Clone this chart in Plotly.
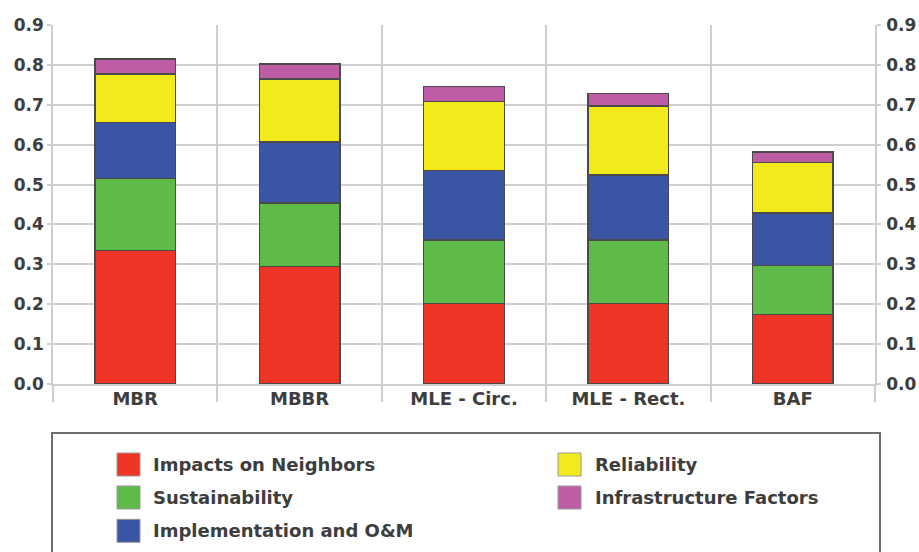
import plotly.graph_objects as go

# Treatment alternatives and weighted criterion scores (stacked)
categories = ["MBR", "MBBR", "MLE - Circ.", "MLE - Rect.", "BAF"]

impacts_on_neighbors = [0.335, 0.294, 0.201, 0.202, 0.175]
sustainability = [0.180, 0.160, 0.160, 0.159, 0.122]
implementation_om = [0.141, 0.153, 0.174, 0.163, 0.132]
reliability = [0.121, 0.158, 0.173, 0.173, 0.126]
infrastructure_factors = [0.038, 0.037, 0.037, 0.032, 0.027]

series_names = [
    "Impacts on Neighbors",
    "Sustainability",
    "Implementation and O&M",
    "Reliability",
    "Infrastructure Factors",
]
series_values = [
    impacts_on_neighbors,
    sustainability,
    implementation_om,
    reliability,
    infrastructure_factors,
]
series_colors = ["#ee3424", "#5ebb47", "#3b55a5", "#f3ea1c", "#bf5ca6"]

y_ticks = [0.0, 0.1, 0.2, 0.3, 0.4, 0.5, 0.6, 0.7, 0.8, 0.9]

W, H = 919, 552
M_L, M_R, M_T, M_B = 53, 44, 25, 168
plot_w = W - M_L - M_R
plot_h = H - M_T - M_B

FONT = "DejaVu Sans"
TEXT = "#3d3d3d"
GRID = "#cdcdd2"


def px_x(p):
    return (p - M_L) / plot_w


def px_y(p):
    return (H - M_B - p) / plot_h


fig = go.Figure()
for name, vals, col in zip(series_names, series_values, series_colors):
    fig.add_trace(
        go.Bar(
            x=categories,
            y=vals,
            name=name,
            marker=dict(color=col, line=dict(color="#4a4a4a", width=1.3)),
            showlegend=False,
        )
    )

axis_font = dict(family=FONT, size=17, color=TEXT, weight="bold")

fig.update_layout(
    width=W,
    height=H,
    template="none",
    margin=dict(l=M_L, r=M_R, t=M_T, b=M_B, pad=0),
    paper_bgcolor="white",
    plot_bgcolor="white",
    barmode="stack",
    bargap=0.51,
    showlegend=False,
    xaxis=dict(
        type="category",
        tickson="boundaries",
        ticks="outside",
        ticklen=16,
        tickwidth=1.5,
        tickcolor=GRID,
        showgrid=True,
        gridcolor=GRID,
        gridwidth=1.5,
        showline=True,
        linecolor=GRID,
        linewidth=1.5,
        tickfont=dict(family=FONT, size=18, color=TEXT, weight="bold"),
        ticklabelstandoff=-2,
        automargin=False,
    ),
    yaxis=dict(
        range=[0, 0.9],
        tickvals=y_ticks,
        tickformat=".1f",
        ticks="outside",
        ticklen=4,
        tickwidth=1.5,
        tickcolor=GRID,
        showgrid=True,
        gridcolor=GRID,
        gridwidth=1.5,
        zeroline=False,
        showline=True,
        linecolor=GRID,
        linewidth=1.5,
        tickfont=axis_font,
        automargin=False,
    ),
    yaxis2=dict(
        overlaying="y",
        side="right",
        anchor="x",
        range=[0, 0.9],
        tickvals=y_ticks,
        tickformat=".1f",
        ticks="outside",
        ticklen=4,
        tickwidth=1.5,
        tickcolor=GRID,
        showgrid=False,
        zeroline=False,
        showline=True,
        linecolor=GRID,
        linewidth=1.5,
        tickfont=axis_font,
        ticklabelstandoff=2,
        automargin=False,
    ),
)

# keep the right-hand axis alive with an empty trace
fig.add_trace(go.Scatter(x=[], y=[], yaxis="y2", showlegend=False, hoverinfo="skip"))

# Legend panel below the chart
shapes = [
    dict(
        type="rect",
        xref="paper",
        yref="paper",
        x0=px_x(52),
        x1=px_x(880),
        y0=px_y(575),
        y1=px_y(433),
        line=dict(color="#6e6e6e", width=2),
        fillcolor="rgba(0,0,0,0)",
        layer="above",
    )
]
annotations = []
col_swatch_x = [117, 558]
col_text_x = [151, 593]
row_center_y = [464.5, 497.5, 530.8]
sw = 23
for i, (name, col) in enumerate(zip(series_names, series_colors)):
    c, r = divmod(i, 3)
    cy = row_center_y[r]
    x0 = col_swatch_x[c]
    shapes.append(
        dict(
            type="rect",
            xref="paper",
            yref="paper",
            x0=px_x(x0),
            x1=px_x(x0 + sw),
            y0=px_y(cy + sw / 2),
            y1=px_y(cy - sw / 2),
            fillcolor=col,
            line=dict(color="#9a9a9a", width=1),
            layer="above",
        )
    )
    annotations.append(
        dict(
            text=name,
            xref="paper",
            yref="paper",
            x=px_x(col_text_x[c]),
            y=px_y(cy),
            xanchor="left",
            yanchor="middle",
            showarrow=False,
            font=dict(family=FONT, size=18, color=TEXT, weight="bold"),
        )
    )

fig.update_layout(shapes=shapes, annotations=annotations)

fig.write_html("out.html")
